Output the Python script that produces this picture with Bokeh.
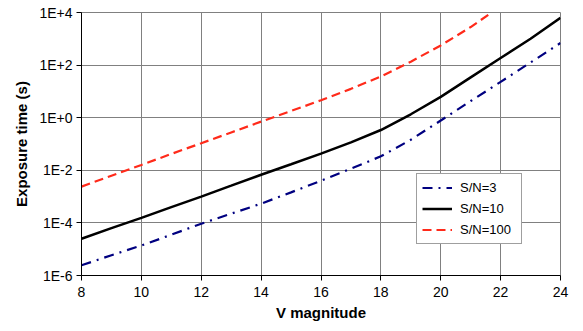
from bokeh.plotting import figure
from bokeh.models import FixedTicker, CustomJSTickFormatter, Legend, LegendItem, Range1d
from bokeh.embed import file_html
from bokeh.resources import INLINE

# ---- data ----
mag = [8, 9, 10, 11, 12, 13, 14, 15, 16, 17, 18, 19, 20, 21, 22, 23, 24]
sn3 = [2.45e-6, 5.9e-6, 1.38e-5, 3.55e-5, 9.3e-5, 2.24e-4, 5.4e-4, 1.45e-3, 4.0e-3,
       1.15e-2, 3.4e-2, 0.145, 0.78, 4.3, 23, 126, 690]
sn10 = [2.5e-5, 6.3e-5, 1.55e-4, 4.0e-4, 1.0e-3, 2.6e-3, 6.8e-3, 1.7e-2, 4.3e-2,
        0.115, 0.34, 1.35, 6.2, 34, 186, 1.0e3, 6.3e3]
mag_100 = [8, 9, 10, 11, 12, 13, 14, 15, 16, 17, 18, 19, 20, 21, 21.7]
sn100 = [2.4e-3, 6.2e-3, 1.6e-2, 4.2e-2, 0.107, 0.275, 0.71, 1.8, 4.6,
         12.5, 37, 135, 560, 2800, 1.0e4]

x_ticks = [8, 10, 12, 14, 16, 18, 20, 22, 24]
y_ticks = [1e-6, 1e-4, 1e-2, 1e0, 1e2, 1e4]
y_tick_labels = ["1E-6", "1E-4", "1E-2", "1E+0", "1E+2", "1E+4"]
series_labels = ["S/N=3", "S/N=10", "S/N=100"]

FONT = "Liberation Sans"

p = figure(width=575, height=323, y_axis_type="log",
           x_range=Range1d(8, 24), y_range=Range1d(1e-6, 1e4),
           output_backend="svg", toolbar_location=None,
           min_border_left=81, min_border_right=15, min_border_top=12, min_border_bottom=47)

p.outline_line_color = "#808080"
p.outline_line_width = 1

for ax in (p.xaxis[0], p.yaxis[0]):
    ax.major_label_text_font = FONT
    ax.major_label_text_font_size = "14px"
    ax.major_label_text_color = "#000000"
    ax.axis_label_text_font = FONT
    ax.axis_label_text_font_size = "15px"
    ax.axis_label_text_font_style = "bold"
    ax.axis_label_text_color = "#000000"
    ax.axis_line_color = "#000000"
    ax.major_tick_line_color = "#000000"
    ax.major_tick_out = 5
    ax.major_tick_in = 0
    ax.minor_tick_line_color = None

p.xaxis.ticker = FixedTicker(ticks=x_ticks)
p.xaxis.axis_label = "V magnitude"
p.xaxis.axis_label_standoff = 4
p.xaxis.major_label_standoff = 6

p.yaxis.ticker = FixedTicker(ticks=y_ticks)
p.yaxis.formatter = CustomJSTickFormatter(
    args=dict(tvals=y_ticks, tlabels=y_tick_labels),
    code="""
let best = 0, bd = Infinity;
for (let i = 0; i < tvals.length; i++) {
  const d = Math.abs(Math.log10(tvals[i]) - Math.log10(tick));
  if (d < bd) { bd = d; best = i; }
}
return tlabels[best];
""")
p.yaxis.axis_label = "Exposure time (s)"
p.yaxis.axis_label_standoff = 6
p.yaxis.major_label_standoff = 4

p.xgrid.ticker = FixedTicker(ticks=x_ticks)
p.ygrid.ticker = FixedTicker(ticks=y_ticks)
p.xgrid.grid_line_color = "#808080"
p.ygrid.grid_line_color = "#808080"
p.xgrid.grid_line_width = 1
p.ygrid.grid_line_width = 1

r3 = p.line(mag, sn3, line_color="#000080", line_width=2.2, line_dash="10 6 2 6")
r10 = p.line(mag, sn10, line_color="#000000", line_width=2.5)
r100 = p.line(mag_100, sn100, line_color="#FF2A1A", line_width=2.2, line_dash="9 5")

legend = Legend(items=[LegendItem(label=series_labels[0], renderers=[r3]),
                       LegendItem(label=series_labels[1], renderers=[r10]),
                       LegendItem(label=series_labels[2], renderers=[r100])],
                location=(335, 31))
legend.label_text_font = FONT
legend.label_text_font_size = "13px"
legend.label_text_color = "#000000"
legend.border_line_color = "#404040"
legend.border_line_width = 1
legend.background_fill_color = "white"
legend.background_fill_alpha = 1
legend.padding = 5
legend.spacing = 4
legend.glyph_height = 17
legend.label_height = 17
legend.glyph_width = 30
legend.label_standoff = 8
legend.label_width = 56
legend.margin = 0
p.add_layout(legend, "center")

open("out.html", "w").write(file_html(p, INLINE))
